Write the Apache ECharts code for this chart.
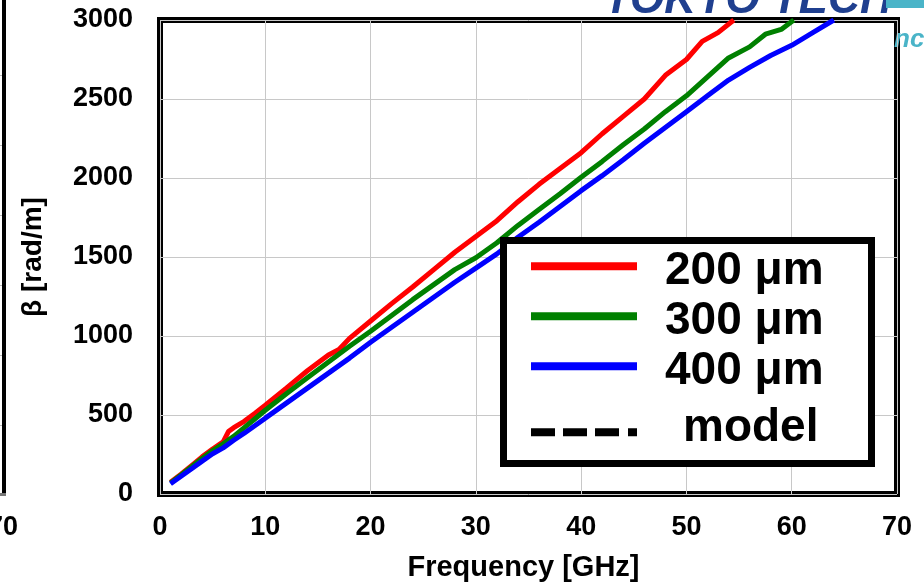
<!DOCTYPE html>
<html>
<head>
<meta charset="utf-8">
<script src="https://cdn.jsdelivr.net/npm/echarts@6/dist/echarts.min.js"></script>
<style>
  html, body { margin: 0; padding: 0; background: #fff; }
  #chart { width: 924px; height: 588px; }
</style>
</head>
<body>
<div id="chart"></div>
<script>
// Phase constant beta vs frequency for three widths (GHz, rad/m)
const freq200 = [1, 2, 3, 4, 5, 6, 6.5, 7, 8, 9, 10, 12, 14, 16, 17, 18, 20, 22, 24, 26, 28, 30, 32, 34, 36, 38, 40, 42, 44, 46, 48, 50, 51.5, 53, 54.5];
const beta200 = [75, 125, 180, 235, 285, 330, 395, 420, 460, 510, 562, 670, 780, 880, 915, 985, 1095, 1205, 1310, 1420, 1530, 1630, 1730, 1850, 1960, 2060, 2160, 2280, 2390, 2500, 2650, 2750, 2865, 2920, 3000];

const freq300 = [1, 2, 3, 4, 5, 6, 7, 8, 9, 10, 12, 14, 16, 18, 20, 22, 24, 26, 28, 30, 32, 34, 36, 38, 40, 42, 44, 46, 48, 50, 52, 54, 56, 57.5, 59, 60.2];
const beta300 = [70, 120, 172, 225, 275, 318, 365, 420, 475, 530, 635, 735, 835, 935, 1030, 1130, 1230, 1325, 1420, 1495, 1590, 1700, 1800, 1900, 2005, 2105, 2210, 2310, 2420, 2520, 2640, 2760, 2830, 2910, 2940, 3000];

const freq400 = [1, 2, 3, 4, 5, 6, 7, 8, 9, 10, 12, 14, 16, 18, 20, 22, 24, 26, 28, 30, 32, 34, 36, 38, 40, 42, 44, 46, 48, 50, 52, 54, 56, 58, 60, 62, 64];
const beta400 = [65, 112, 160, 208, 255, 292, 340, 385, 432, 480, 575, 670, 765, 860, 960, 1055, 1150, 1245, 1340, 1430, 1520, 1625, 1720, 1820, 1920, 2015, 2115, 2220, 2320, 2420, 2520, 2620, 2700, 2775, 2840, 2920, 3000];

const seriesNames = ['200 \u03bcm', '300 \u03bcm', '400 \u03bcm', 'model'];
const xTicks = [0, 10, 20, 30, 40, 50, 60, 70];
const yTicks = [0, 500, 1000, 1500, 2000, 2500, 3000];

const FONT = "'Liberation Sans', Arial, sans-serif";
const pair = (xs, ys) => xs.map((x, i) => [x, ys[i]]);

const chart = echarts.init(document.getElementById('chart'), null, { renderer: 'canvas' });

// four black dashes for the model entry
const dashIcon = 'path://M0,0h24v8h-24z M32,0h24v8h-24z M64,0h24v8h-24z M97,0h9v8h-9z';

const lineSeries = (name, data, color) => ({
  name: name,
  type: 'line',
  data: data,
  showSymbol: false,
  symbol: 'none',
  smooth: false,
  clip: true,
  color: color,
  lineStyle: { color: color, width: 5 },
  z: 3
});

const legendText = { fontFamily: FONT, fontWeight: 'bold', fontSize: 46, color: '#000' };
const legendBase = {
  orient: 'vertical',
  left: 531,
  padding: 0,
  itemWidth: 106,
  itemHeight: 8,
  selectedMode: false,
  backgroundColor: 'transparent',
  borderWidth: 0,
  z: 30
};

chart.setOption({
  animation: false,
  backgroundColor: '#fff',
  grid: {
    left: 160, right: 27, top: 20, bottom: 94,
    show: true, borderColor: '#000', borderWidth: 6, backgroundColor: 'transparent'
  },
  xAxis: {
    type: 'value',
    min: xTicks[0], max: xTicks[xTicks.length - 1], interval: 10,
    name: 'Frequency [GHz]',
    nameLocation: 'middle',
    nameGap: 59,
    nameTextStyle: { fontFamily: FONT, fontWeight: 'bold', fontSize: 29, color: '#000', padding: [0, 10, 0, 0] },
    axisLine: { show: false },
    axisTick: { show: false },
    axisLabel: { fontFamily: FONT, fontWeight: 'bold', fontSize: 27, color: '#000', margin: 20,
      formatter: v => String(v) },
    splitLine: { show: true, lineStyle: { color: '#c8c8c8', width: 1 } }
  },
  yAxis: {
    type: 'value',
    min: yTicks[0], max: yTicks[yTicks.length - 1], interval: 500,
    name: '\u03b2 [rad/m]',
    nameLocation: 'middle',
    nameGap: 113,
    nameTextStyle: { fontFamily: FONT, fontWeight: 'bold', fontSize: 28, color: '#000' },
    axisLine: { show: false },
    axisTick: { show: false },
    axisLabel: { fontFamily: FONT, fontWeight: 'bold', fontSize: 27, color: '#000', margin: 27,
      formatter: v => String(v) },
    splitLine: { show: true, lineStyle: { color: '#c8c8c8', width: 1 } }
  },
  legend: [
    Object.assign({}, legendBase, {
      top: 248.3,
      itemGap: 4,
      textStyle: Object.assign({}, legendText, {
        rich: { a: Object.assign({}, legendText, { padding: [10, 0, 0, 23] }) }
      }),
      formatter: name => '{a|' + name + '}',
      data: [
        { name: seriesNames[0], icon: 'rect' },
        { name: seriesNames[1], icon: 'rect' },
        { name: seriesNames[2], icon: 'rect' }
      ]
    }),
    Object.assign({}, legendBase, {
      top: 405.3,
      textStyle: Object.assign({}, legendText, {
        rich: { m: Object.assign({}, legendText, { padding: [0, 0, 8, 41] }) }
      }),
      formatter: name => '{m|' + name + '}',
      data: [
        { name: seriesNames[3], icon: dashIcon, itemStyle: { color: '#000' } }
      ]
    })
  ],
  series: [
    lineSeries(seriesNames[0], pair(freq200, beta200), '#ff0000'),
    lineSeries(seriesNames[1], pair(freq300, beta300), '#008000'),
    lineSeries(seriesNames[2], pair(freq400, beta400), '#0000ff'),
    {
      name: seriesNames[3], type: 'line', data: [], symbol: 'none', color: '#000',
      lineStyle: { color: '#000', width: 5, type: 'dashed' }
    }
  ],
  graphic: [
    // legend frame
    { type: 'rect', z: 20, shape: { x: 503.5, y: 240.5, width: 368, height: 223 },
      style: { fill: '#fff', stroke: '#000', lineWidth: 7 }, silent: true },
    // neighbouring panel edge on the left
    { type: 'rect', shape: { x: 2, y: 0, width: 4, height: 496 }, style: { fill: '#000' }, silent: true },
    { type: 'rect', shape: { x: 0, y: 493, width: 6, height: 3 }, style: { fill: '#777' }, silent: true },
    ...[75, 145, 215, 285, 355, 425].map(y => ({
      type: 'rect', shape: { x: 0, y: y, width: 2, height: 1 }, style: { fill: '#bbb' }, silent: true
    })),
    { type: 'text', style: { text: '70', x: 18, y: 528, align: 'right', verticalAlign: 'middle',
      font: "bold 27px " + FONT, fill: '#000' }, silent: true },
    // logo fragments along the top edge
    { type: 'text', style: { text: 'TOKYO TECH', x: 604, y: 1, align: 'left', verticalAlign: 'middle',
      font: "italic bold 44px " + FONT, fill: '#1f3f8f' }, silent: true, z: -1 },
    { type: 'rect', shape: { x: 886, y: 0, width: 38, height: 8 }, style: { fill: '#4ab4c8' }, silent: true },
    { type: 'text', style: { text: 'nce', x: 894, y: 40, align: 'left', verticalAlign: 'middle',
      font: "italic bold 26px " + FONT, fill: '#4ab4c8' }, silent: true }
  ]
});
</script>
</body>
</html>
